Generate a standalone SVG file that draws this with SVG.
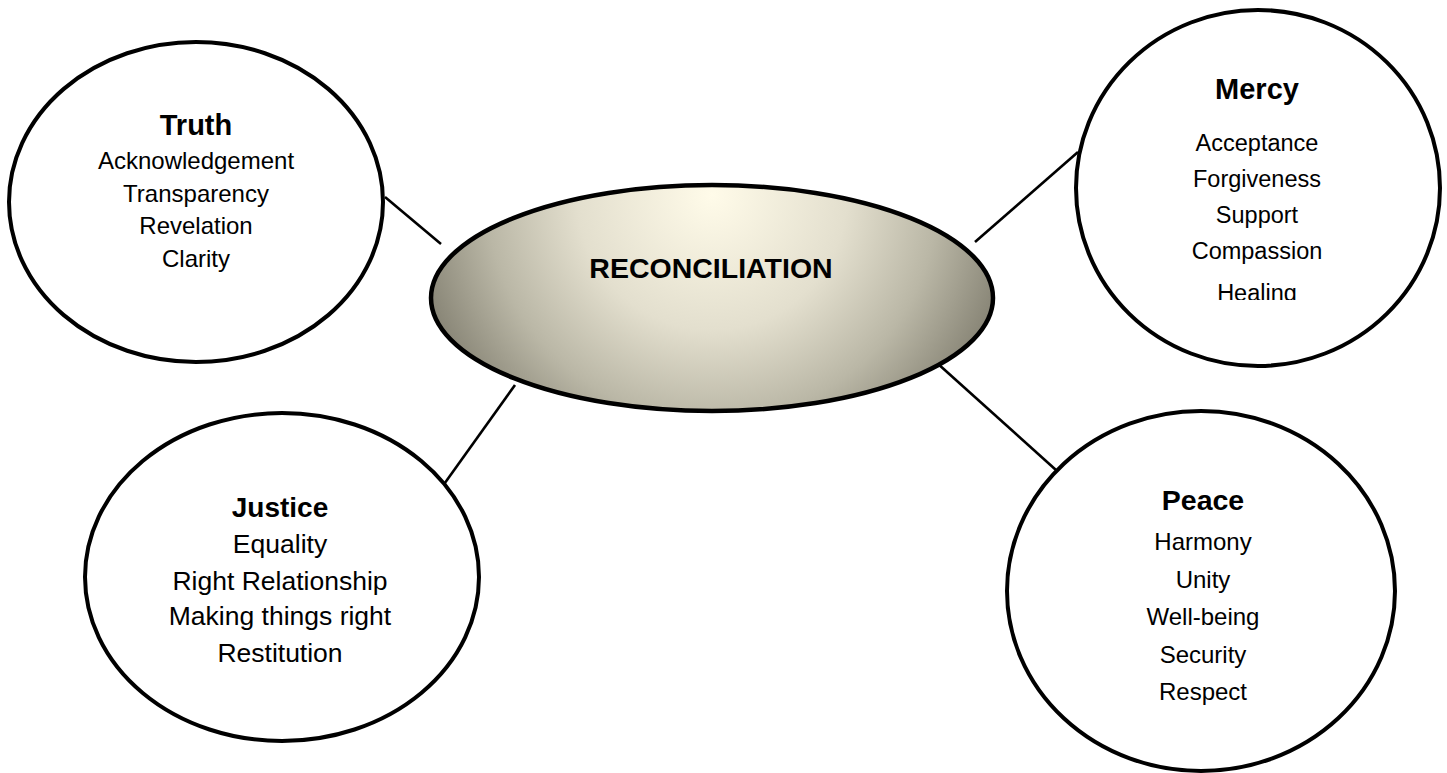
<svg xmlns="http://www.w3.org/2000/svg" width="1447" height="773" viewBox="0 0 1447 773">
<style>
.node{fill:#fff;stroke:#000;stroke-width:4}
.conn{stroke:#000;stroke-width:2.6;fill:none}
.t{font-family:"Liberation Sans",Arial,sans-serif;font-weight:bold;text-anchor:middle;fill:#000}
.b{font-family:"Liberation Sans",Arial,sans-serif;text-anchor:middle;fill:#000}
</style>
<defs>
<radialGradient id="g" gradientUnits="userSpaceOnUse" cx="712" cy="195" r="300">
<stop offset="0" stop-color="#fffbe9"/>
<stop offset="0.45" stop-color="#e3dfce"/>
<stop offset="0.75" stop-color="#bab7a6"/>
<stop offset="1" stop-color="#8a8778"/>
</radialGradient>
<clipPath id="mclip"><rect x="1080" y="0" width="360" height="300"/></clipPath>
</defs>
<rect width="1447" height="773" fill="#fff"/>
<g id="connectors">
<line class="conn" x1="385" y1="197" x2="441" y2="244"/>
<line class="conn" x1="1078" y1="152" x2="975" y2="242"/>
<line class="conn" x1="937" y1="363" x2="1056" y2="470"/>
<line class="conn" x1="515" y1="385" x2="442" y2="487"/>
</g>
<g id="reconciliation">
<ellipse cx="712" cy="298" rx="281" ry="113" fill="url(#g)" stroke="#000" stroke-width="4.5"/>
<text class="t" x="711" y="278" font-size="28.5">RECONCILIATION</text>
</g>
<g id="truth">
<ellipse class="node" cx="196" cy="202" rx="187" ry="160"/>
<text class="t" x="196" y="135" font-size="29">Truth</text>
<text class="b" font-size="24"><tspan x="196" y="169">Acknowledgement</tspan><tspan x="196" y="201.5">Transparency</tspan><tspan x="196" y="234">Revelation</tspan><tspan x="196" y="267">Clarity</tspan></text>
</g>
<g id="mercy">
<ellipse class="node" cx="1258" cy="188" rx="182" ry="178"/>
<text class="t" x="1257" y="99" font-size="29">Mercy</text>
<text class="b" font-size="23.5" clip-path="url(#mclip)"><tspan x="1257" y="150.5">Acceptance</tspan><tspan x="1257" y="186.5">Forgiveness</tspan><tspan x="1257" y="223">Support</tspan><tspan x="1257" y="259">Compassion</tspan><tspan x="1257" y="300.5">Healing</tspan></text>
</g>
<g id="peace">
<ellipse class="node" cx="1201" cy="591" rx="194" ry="180"/>
<text class="t" x="1203" y="510" font-size="28.5">Peace</text>
<text class="b" font-size="24"><tspan x="1203" y="550">Harmony</tspan><tspan x="1203" y="588">Unity</tspan><tspan x="1203" y="625">Well-being</tspan><tspan x="1203" y="663">Security</tspan><tspan x="1203" y="700">Respect</tspan></text>
</g>
<g id="justice">
<ellipse class="node" cx="282" cy="577" rx="197" ry="164"/>
<text class="t" x="280" y="517" font-size="28">Justice</text>
<text class="b" font-size="26.5"><tspan x="280" y="553">Equality</tspan><tspan x="280" y="590">Right Relationship</tspan><tspan x="280" y="625">Making things right</tspan><tspan x="280" y="662">Restitution</tspan></text>
</g>
</svg>
